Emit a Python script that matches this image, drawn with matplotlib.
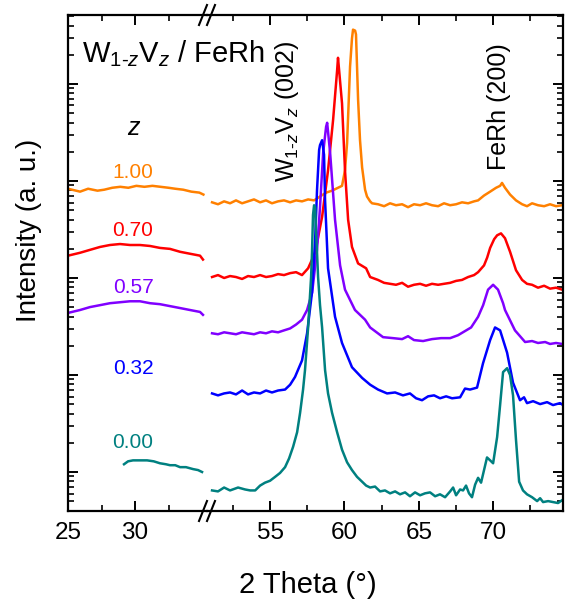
import numpy as np
import matplotlib
matplotlib.use('Agg')
import matplotlib.pyplot as plt
from matplotlib.ticker import LogLocator, NullFormatter, FixedLocator
from matplotlib.lines import Line2D

plt.rcParams['font.family'] = ['Liberation Sans', 'DejaVu Sans']
plt.rcParams['mathtext.fontset'] = 'custom'
plt.rcParams['mathtext.rm'] = 'Liberation Sans'
plt.rcParams['mathtext.it'] = 'Liberation Sans:italic'
plt.rcParams['mathtext.bf'] = 'Liberation Sans:bold'

# ---------------- data (2 theta in degrees, log10 of intensity, a.u.) ----------------
z_labels = ['1.00', '0.70', '0.57', '0.32', '0.00']
colors = ['#FF8000', '#FF0000', '#8000FF', '#0000FF', '#008080']

# left panel (25-35 deg)
tl_100 = [25.0, 25.3, 25.9, 26.5, 27.2, 27.7, 28.3, 28.9, 29.5, 30.1, 30.7, 31.3, 31.9, 32.5, 33.0, 33.6, 34.2, 34.8, 35.1]
yl_100 = [2.92, 2.91, 2.89, 2.92, 2.90, 2.91, 2.93, 2.94, 2.93, 2.95, 2.94, 2.95, 2.94, 2.93, 2.92, 2.91, 2.89, 2.88, 2.86]

tl_070 = [25.0, 25.9, 26.64, 27.39, 28.13, 28.88, 29.63, 30.37, 31.12, 31.86, 32.61, 33.36, 34.1, 34.85, 35.07]
yl_070 = [2.23, 2.26, 2.29, 2.32, 2.34, 2.35, 2.34, 2.34, 2.33, 2.31, 2.30, 2.27, 2.25, 2.23, 2.19]

tl_057 = [25.0, 25.9, 26.64, 27.39, 28.13, 28.88, 29.63, 30.37, 31.12, 31.86, 32.61, 33.36, 34.1, 34.85, 35.07]
yl_057 = [1.64, 1.67, 1.70, 1.72, 1.74, 1.75, 1.76, 1.76, 1.74, 1.73, 1.71, 1.69, 1.67, 1.65, 1.62]

tl_000 = [29.18, 29.48, 29.85, 30.4, 30.9, 31.4, 31.86, 32.3, 32.61, 33.0, 33.36, 33.8, 34.33, 34.7, 35.0]
yl_000 = [0.08, 0.11, 0.12, 0.12, 0.12, 0.11, 0.09, 0.08, 0.07, 0.07, 0.05, 0.05, 0.03, 0.02, 0.0]

# right panel (51-75 deg)
tr_100 = [51.10, 51.50, 51.91, 52.31, 52.71, 53.12, 53.52, 53.92, 54.33, 54.73, 55.13, 55.54, 55.94, 56.35,
          56.75, 57.15, 57.56, 57.96, 58.36, 58.77, 59.17, 59.57, 59.84, 60.04, 60.18, 60.38, 60.51, 60.58,
          60.72, 60.78, 60.92, 61.05, 61.19, 61.39, 61.52, 61.73, 61.86, 62.26, 62.67, 63.07, 63.47, 63.88,
          64.28, 64.68, 65.09, 65.49, 65.89, 66.30, 66.70, 67.11, 67.51, 67.91, 68.32, 68.72, 68.99, 69.39,
          69.80, 70.20, 70.47, 70.60, 70.80, 71.14, 71.54, 71.95, 72.28, 72.62, 73.02, 73.43, 73.83, 74.23, 74.64]
yr_100 = [2.78, 2.76, 2.79, 2.77, 2.80, 2.77, 2.79, 2.81, 2.78, 2.80, 2.77, 2.79, 2.80, 2.78,
          2.80, 2.79, 2.81, 2.80, 2.84, 2.88, 2.90, 2.93, 2.95, 3.11, 3.39, 4.18, 4.47, 4.56,
          4.55, 4.51, 3.84, 3.42, 3.14, 2.91, 2.84, 2.79, 2.77, 2.76, 2.74, 2.77, 2.75, 2.76,
          2.73, 2.76, 2.75, 2.77, 2.75, 2.74, 2.77, 2.75, 2.76, 2.78, 2.77, 2.79, 2.80, 2.85,
          2.89, 2.93, 2.95, 2.98, 2.93, 2.86, 2.80, 2.76, 2.74, 2.77, 2.75, 2.74, 2.76, 2.74, 2.75]

tr_070 = [51.10, 51.50, 51.91, 52.31, 52.71, 53.12, 53.52, 53.92, 54.33, 54.73, 55.13, 55.54, 55.94, 56.35,
          56.75, 57.15, 57.56, 58.03, 58.50, 58.90, 59.24, 59.51, 59.57, 59.84, 60.04, 60.25, 60.51, 60.92,
          61.46, 61.73, 62.26, 62.67, 63.07, 63.47, 63.88, 64.28, 64.68, 65.09, 65.49, 65.89, 66.30, 66.70,
          67.11, 67.51, 67.91, 68.32, 68.72, 68.99, 69.39, 69.60, 69.80, 70.07, 70.27, 70.53, 70.80, 71.14,
          71.54, 71.95, 72.28, 72.62, 73.02, 73.43, 73.83, 74.23, 74.64]
yr_070 = [2.01, 2.03, 2.00, 2.02, 2.01, 1.99, 2.02, 2.01, 2.03, 2.01, 2.02, 2.04, 2.03, 2.05,
          2.06, 2.03, 2.10, 2.26, 2.63, 3.11, 3.63, 4.14, 4.27, 3.80, 3.11, 2.60, 2.32, 2.15,
          2.10, 2.01, 1.98, 1.95, 1.94, 1.93, 1.95, 1.91, 1.93, 1.94, 1.92, 1.94, 1.93, 1.94,
          1.95, 1.97, 1.98, 2.01, 2.03, 2.06, 2.13, 2.21, 2.31, 2.40, 2.44, 2.46, 2.41, 2.27,
          2.08, 1.98, 1.94, 1.93, 1.90, 1.92, 1.89, 1.90, 1.88]

tr_057 = [51.10, 51.50, 51.91, 52.31, 52.71, 53.12, 53.52, 53.92, 54.33, 54.73, 55.13, 55.54, 55.94, 56.35,
          56.75, 57.15, 57.49, 57.83, 58.16, 58.36, 58.57, 58.77, 58.84, 59.04, 59.37, 59.71, 60.04, 60.71,
          61.39, 61.73, 62.60, 63.27, 63.88, 64.28, 64.68, 65.29, 65.89, 66.50, 67.11, 67.64, 68.52, 68.99,
          69.33, 69.66, 70.00, 70.33, 70.67, 70.80, 71.47, 72.15, 72.62, 73.02, 73.50, 73.83, 74.23, 74.64]
yr_057 = [1.43, 1.42, 1.44, 1.43, 1.42, 1.44, 1.43, 1.42, 1.44, 1.43, 1.45, 1.44, 1.46, 1.48,
          1.52, 1.57, 1.67, 1.85, 2.29, 2.73, 3.29, 3.56, 3.60, 3.29, 2.60, 2.13, 1.88, 1.67,
          1.57, 1.49, 1.39, 1.38, 1.37, 1.40, 1.36, 1.35, 1.37, 1.38, 1.38, 1.41, 1.49, 1.60,
          1.72, 1.88, 1.93, 1.88, 1.74, 1.67, 1.46, 1.34, 1.35, 1.33, 1.34, 1.32, 1.33, 1.32]

tr_032 = [51.10, 51.50, 51.91, 52.31, 52.71, 53.12, 53.52, 53.92, 54.33, 54.73, 55.13, 55.54, 56.01, 56.35,
          56.68, 57.15, 57.49, 57.82, 58.03, 58.16, 58.30, 58.36, 58.50, 58.63, 58.70, 58.90, 59.37, 59.84,
          60.51, 61.19, 61.73, 62.26, 62.87, 63.41, 63.94, 64.41, 64.82, 65.22, 65.63, 66.03, 66.43, 66.84,
          67.24, 67.78, 68.11, 68.45, 68.92, 69.32, 69.80, 70.13, 70.47, 70.94, 71.34, 71.81, 72.08, 72.28,
          72.69, 73.16, 73.63, 74.03, 74.50, 74.70]
yr_032 = [0.81, 0.79, 0.81, 0.82, 0.80, 0.84, 0.80, 0.82, 0.81, 0.84, 0.82, 0.84, 0.85, 0.90,
          0.98, 1.15, 1.43, 1.85, 2.39, 2.91, 3.32, 3.37, 3.42, 3.27, 2.80, 2.10, 1.60, 1.33,
          1.08, 0.97, 0.90, 0.85, 0.81, 0.82, 0.79, 0.81, 0.76, 0.74, 0.78, 0.79, 0.76, 0.78,
          0.76, 0.77, 0.86, 0.85, 0.87, 1.12, 1.36, 1.49, 1.46, 1.23, 0.92, 0.74, 0.77, 0.71,
          0.73, 0.70, 0.72, 0.69, 0.71, 0.69]

tr_000 = [51.10, 51.50, 51.91, 52.31, 52.85, 53.32, 53.66, 54.00, 54.33, 54.66, 55.00, 55.34, 55.67, 56.01,
          56.28, 56.55, 56.82, 57.02, 57.22, 57.35, 57.56, 57.76, 57.82, 57.89, 57.96, 58.03, 58.09, 58.16,
          58.23, 58.36, 58.50, 58.70, 58.90, 59.17, 59.51, 59.84, 60.18, 60.51, 60.85, 61.19, 61.46, 61.73,
          62.06, 62.40, 62.73, 63.07, 63.41, 63.74, 64.08, 64.41, 64.75, 65.09, 65.42, 65.76, 66.10, 66.43,
          66.77, 67.11, 67.31, 67.51, 67.78, 67.98, 68.18, 68.38, 68.58, 68.79, 68.99, 69.19, 69.39, 69.59,
          69.80, 70.00, 70.27, 70.47, 70.67, 70.94, 71.14, 71.34, 71.54, 71.75, 72.01, 72.28, 72.62, 72.96,
          73.16, 73.36, 73.70, 74.03, 74.37, 74.64]
yr_000 = [-0.19, -0.20, -0.16, -0.19, -0.16, -0.18, -0.19, -0.19, -0.14, -0.11, -0.09, -0.05, -0.01, 0.05,
          0.14, 0.26, 0.41, 0.61, 0.85, 1.05, 1.49, 2.01, 2.26, 2.65, 2.75, 2.73, 2.49, 2.26,
          2.01, 1.72, 1.49, 1.05, 0.81, 0.61, 0.41, 0.23, 0.10, 0.02, -0.05, -0.10, -0.14, -0.16,
          -0.15, -0.20, -0.19, -0.22, -0.20, -0.23, -0.21, -0.25, -0.21, -0.24, -0.22, -0.21, -0.25, -0.23,
          -0.26, -0.20, -0.16, -0.24, -0.18, -0.19, -0.14, -0.22, -0.26, -0.13, -0.06, -0.11, 0.02, 0.15,
          0.12, 0.09, 0.36, 0.69, 1.03, 1.07, 1.00, 0.79, 0.33, -0.10, -0.19, -0.23, -0.26, -0.30,
          -0.27, -0.31, -0.30, -0.31, -0.32, -0.29]

left_series = [(tl_100, yl_100, 0), (tl_070, yl_070, 1), (tl_057, yl_057, 2), (tl_000, yl_000, 4)]
right_series = [(tr_100, yr_100, 0), (tr_070, yr_070, 1), (tr_057, yr_057, 2), (tr_032, yr_032, 3), (tr_000, yr_000, 4)]

# ---------------- figure ----------------
fig = plt.figure(figsize=(5.76, 6.0), dpi=100)
W, H = 576.0, 600.0
x0, xb, x1 = 68, 207, 563
ytop, ybot = 15, 511
ax1 = fig.add_axes([x0 / W, 1 - ybot / H, (xb - x0) / W, (ybot - ytop) / H])
ax2 = fig.add_axes([xb / W, 1 - ybot / H, (x1 - xb) / W, (ybot - ytop) / H])
ax2.patch.set_visible(False)

ylo, yhi = 10 ** -0.402, 10 ** 4.711
lw = 1.8
for t, y, ci in left_series:
    ax1.plot(t, 10 ** np.array(y), color=colors[ci], lw=lw)
for t, y, ci in right_series:
    ax2.plot(t, 10 ** np.array(y), color=colors[ci], lw=lw)

ax1.set_xlim(25, 35.37)
ax2.set_xlim(50.76, 74.70)
for ax in (ax1, ax2):
    ax.set_yscale('log')
    ax.set_ylim(ylo, yhi)
    ax.yaxis.set_major_locator(LogLocator(base=10, numticks=20))
    ax.yaxis.set_minor_locator(LogLocator(base=10, subs=np.arange(2, 10), numticks=50))
    ax.yaxis.set_major_formatter(NullFormatter())
    ax.yaxis.set_minor_formatter(NullFormatter())
    for s in ax.spines.values():
        s.set_linewidth(1.6)
    ax.tick_params(which='major', direction='in', length=7, width=1.4, labelsize=17.5, pad=8)
    ax.tick_params(which='minor', direction='in', length=4, width=1.2)

ax1.xaxis.set_major_locator(FixedLocator([25, 30]))
ax1.xaxis.set_minor_locator(FixedLocator([27.5, 32.5]))
ax2.xaxis.set_major_locator(FixedLocator([55, 60, 65, 70]))
ax2.xaxis.set_minor_locator(FixedLocator([52.5, 57.5, 62.5, 67.5, 72.5]))

ax1.spines['right'].set_visible(False)
ax2.spines['left'].set_visible(False)
ax1.tick_params(which='both', top=True, bottom=True, left=True, right=False)
ax2.tick_params(which='both', top=True, bottom=True, left=False, right=True)

# break marks
for yb in (ytop, ybot):
    for dx in (-4, 4):
        xc = xb + dx
        fig.add_artist(Line2D([(xc - 4) / W, (xc + 4) / W], [1 - (yb + 10) / H, 1 - (yb - 10) / H],
                              color='black', lw=1.5, transform=fig.transFigure, clip_on=False))

# labels
fig.text(308 / W, 1 - 585 / H, '2 Theta (°)', ha='center', va='center', fontsize=21)
fig.text(29 / W, 1 - 230 / H, 'Intensity (a. u.)', ha='center', va='center', rotation=90, fontsize=20)

# annotations
ax1.text(26.04, 10 ** 4.22, r'W$_{1\text{-}z}$V$_z$ / FeRh', fontsize=21, ha='left', va='baseline', zorder=10)
ax1.text(29.85, 10 ** 3.55, 'z', style='italic', fontsize=18, ha='center', va='center')
label_pos = [3.09, 2.49, 1.90, 1.07, 0.30]
for lab, lp, c in zip(z_labels, label_pos, colors):
    ax1.text(29.85, 10 ** lp, lab, color=c, fontsize=15, ha='center', va='center')

ax2.text(56.15, 10 ** 2.99, r'W$_{1\text{-}z}$V$_z$ (002)', fontsize=18, rotation=90, ha='center', va='bottom')
ax2.text(70.40, 10 ** 3.11, 'FeRh (200)', fontsize=18, rotation=90, ha='center', va='bottom')

fig.savefig('out.png', dpi=100)
